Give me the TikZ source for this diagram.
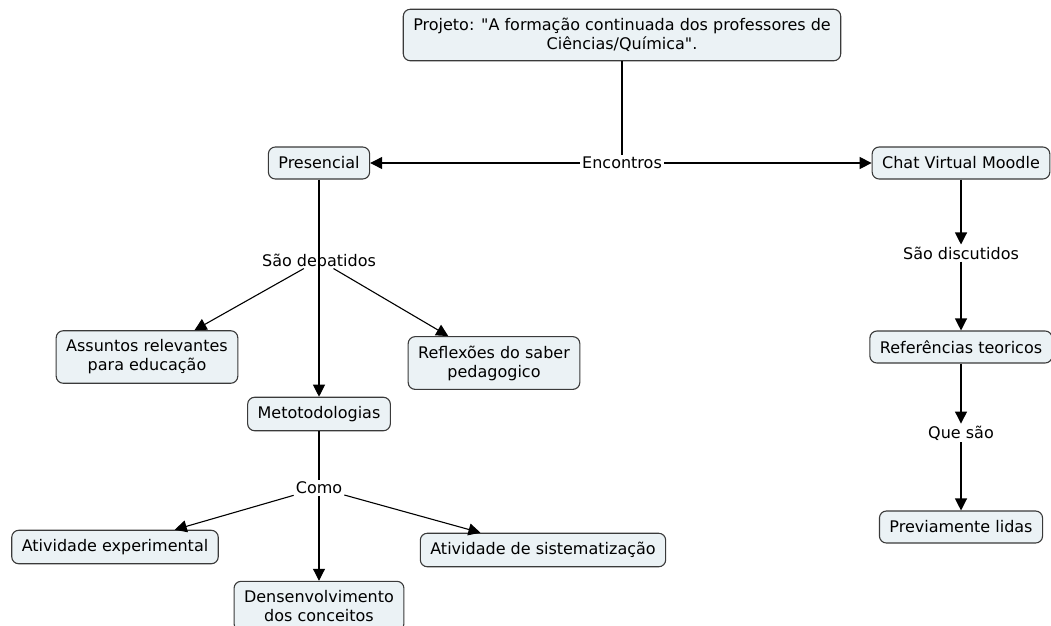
\documentclass[tikz,border=0pt]{standalone}
\usepackage{fontspec}
\setmainfont{DejaVu Sans}[Ligatures=TeXOff]
\usetikzlibrary{arrows.meta}
\definecolor{caixa}{HTML}{EBF2F5}
\definecolor{borda}{HTML}{3A3A3A}

\begin{document}
\begin{tikzpicture}[
  x=1pt, y=-1pt,
  font=\fontsize{16}{19}\selectfont,
  % conceitos do mapa em caixas arredondadas, frases de ligação sem moldura
  conceito/.style={draw=borda, fill=caixa, rounded corners=7pt, line width=1.1pt,
                   align=center, inner xsep=10pt, inner ysep=9pt, minimum height=32pt},
  frase/.style={inner sep=2pt},
  liga/.style={black, line width=1.1pt},
  seta/.style={liga, -{Triangle[length=12pt, width=12pt]}},
]
\useasboundingbox (0,0) rectangle (1051,625);
% ---- topo
\node[conceito] (proj) at (622,35)
  {Projeto: "A formação continuada dos professores de\\Ciências/Química".};
\node[frase] (enc) at (622,163) {Encontros};
\node[conceito] (pres) at (319,163) {Presencial};
\node[conceito] (chat) at (961,163) {Chat Virtual Moodle};
\draw[liga] (proj) -- (enc);
\draw[seta] (enc) -- (pres);
\draw[seta] (enc) -- (chat);
% ---- ramo presencial
\node[frase] (deb) at (319,260) {São debatidos};
\node[conceito] (assu) at (147,357) {Assuntos relevantes\\para educação};
\node[conceito] (refl) at (494,363) {Reflexões do saber\\pedagogico};
\node[conceito] (meto) at (319,414) {Metotodologias};
\draw[liga] (pres) -- (deb.center);
\draw[seta] (deb) -- (assu);
\draw[seta] (deb) -- (refl);
\draw[seta] (deb.center) -- (meto);
\node[frase] (como) at (319,488) {Como};
\node[conceito] (exper) at (115,547) {Atividade experimental};
\node[conceito] (dens) at (319,606) {Densenvolvimento\\dos conceitos};
\node[conceito] (sist) at (543,550) {Atividade de sistematização};
\draw[liga] (meto) -- (como);
\draw[seta] (como) -- (exper);
\draw[seta] (como) -- (dens);
\draw[seta] (como) -- (sist);
% ---- ramo virtual
\node[frase] (disc) at (961,253) {São discutidos};
\node[conceito] (refs) at (961,347) {Referências teoricos};
\node[frase] (que) at (961,433) {Que são};
\node[conceito] (prev) at (961,527) {Previamente lidas};
\draw[seta] (chat) -- (disc);
\draw[seta] (disc) -- (refs);
\draw[seta] (refs) -- (que);
\draw[seta] (que) -- (prev);
\end{tikzpicture}
\end{document}
